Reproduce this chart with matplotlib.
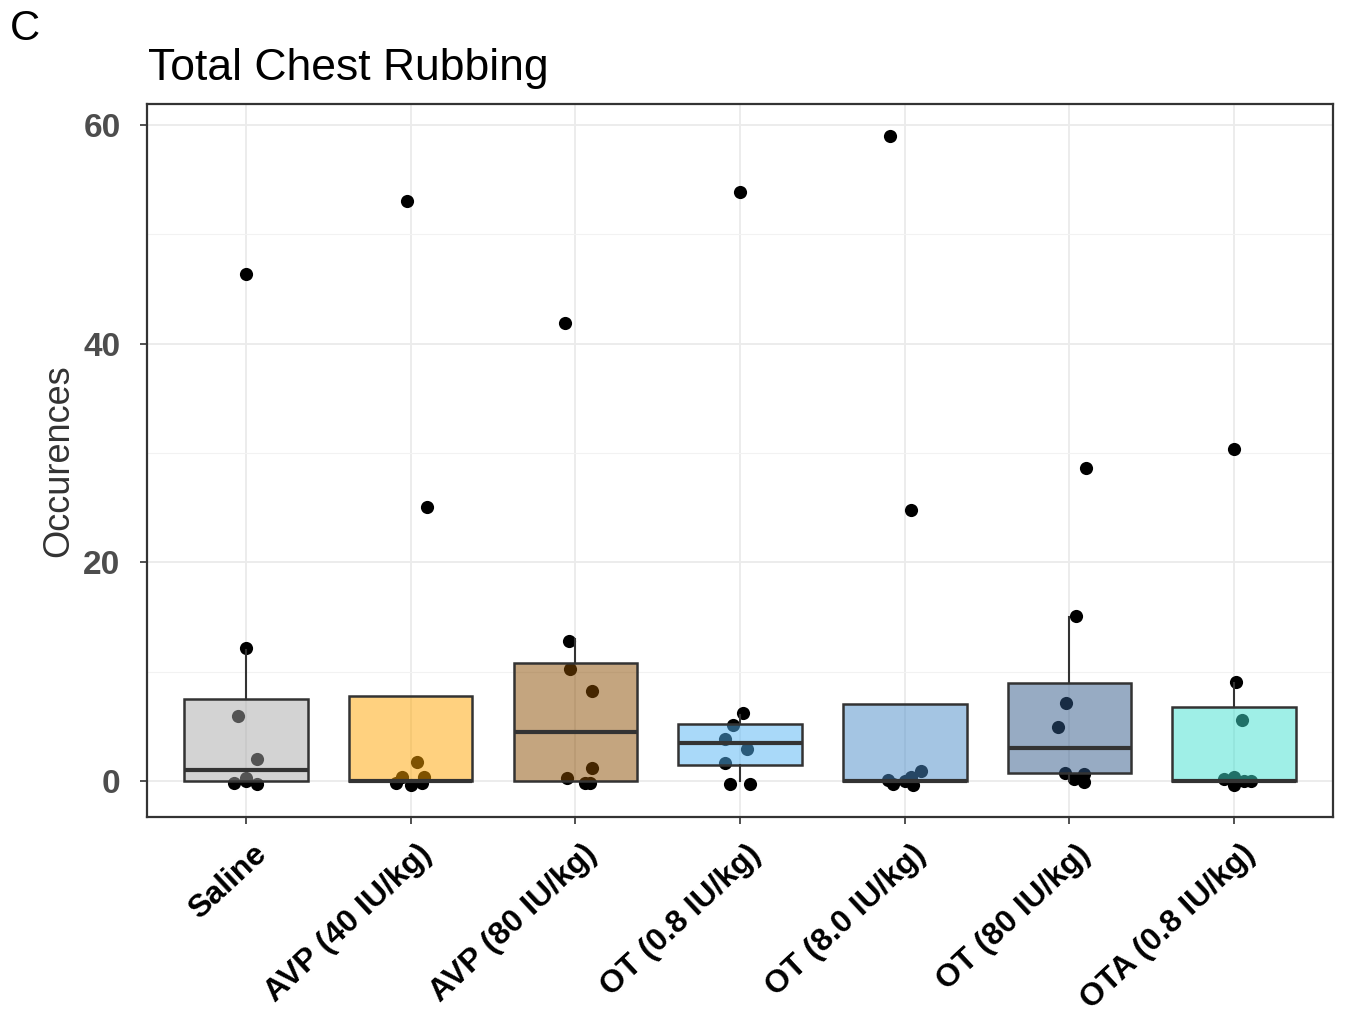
import numpy as np
import matplotlib.pyplot as plt
from matplotlib.colors import to_rgb
from matplotlib.transforms import ScaledTranslation

plt.rcParams['font.family'] = ['Liberation Sans', 'DejaVu Sans']

# ---- data: occurrences per animal, one list per treatment ----
groups = ['Saline', 'AVP (40 IU/kg)', 'AVP (80 IU/kg)', 'OT (0.8 IU/kg)',
          'OT (8.0 IU/kg)', 'OT (80 IU/kg)', 'OTA (0.8 IU/kg)']

saline = [0, 0, 0, 0, 2, 6, 12, 46]
avp_40 = [0, 0, 0, 0, 0, 2, 25, 53]
avp_80 = [0, 0, 0, 1, 8, 10, 13, 42]
ot_08 = [0, 0, 2, 3, 4, 5, 6, 54]
ot_8 = [0, 0, 0, 0, 0, 1, 25, 59]
ot_80 = [0, 0, 1, 1, 5, 7, 15, 29]
ota_08 = [0, 0, 0, 0, 0, 6, 9, 30]

# jitter used for the dots (x in category units, y in count units)
jit_x = [
    [-0.07, 0.0, 0.07, 0.0, 0.07, -0.05, 0.0, 0.0],
    [-0.055, 0.08, -0.09, 0.0, 0.07, 0.04, 0.1, -0.02],
    [-0.05, 0.06, 0.09, 0.1, 0.1, -0.03, -0.04, -0.06],
    [-0.06, 0.06, -0.09, 0.04, -0.09, -0.04, 0.02, 0.0],
    [-0.1, -0.07, 0.05, 0.04, 0.0, 0.1, 0.04, -0.09],
    [0.03, 0.09, -0.03, 0.09, -0.07, -0.02, 0.04, 0.1],
    [-0.06, 0.0, 0.0, 0.1, 0.06, 0.05, 0.01, 0.0],
]
jit_y = [
    [-0.2, 0.0, -0.25, 0.25, 0.0, -0.05, 0.2, 0.4],
    [0.4, 0.35, -0.2, -0.35, -0.15, -0.26, 0.07, 0.0],
    [0.27, -0.2, -0.15, 0.2, 0.2, 0.2, -0.2, -0.1],
    [-0.25, -0.25, -0.35, -0.1, -0.15, 0.1, 0.2, -0.1],
    [0.1, -0.3, -0.35, 0.35, 0.0, -0.1, -0.2, 0.0],
    [0.18, -0.1, -0.27, -0.4, -0.1, 0.1, 0.1, -0.4],
    [0.2, 0.35, -0.4, 0.0, 0.0, -0.4, 0.06, 0.4],
]

fills = ['#a9a9a9', '#ffa500', '#8a4c00', '#55b5f5', '#4b8dc9', '#315989', '#40e0d0']

data = [saline, avp_40, avp_80, ot_08, ot_8, ot_80, ota_08]
pos = np.arange(1, len(groups) + 1)

fig = plt.figure(figsize=(13.45, 10.15), dpi=100)
ax = fig.add_axes([0.1093, 0.195, 0.8818, 0.7025])

# grid like theme_bw
ax.set_axisbelow(True)
ax.set_yticks([0, 20, 40, 60])
ax.set_yticks([10, 30, 50], minor=True)
ax.grid(True, which='major', color='#ebebeb', lw=1.3)
ax.grid(True, which='minor', axis='y', color='#f2f2f2', lw=0.8)
ax.tick_params(axis='y', which='minor', length=0)

# jittered points sit under the translucent boxes
for i, vals in enumerate(data):
    xs = pos[i] + np.array(jit_x[i])
    ys = np.array(vals) + np.array(jit_y[i])
    ax.scatter(xs, ys, s=90, color='black', zorder=2, linewidths=0)

bp = ax.boxplot(data, positions=pos, widths=0.75, patch_artist=True,
                showfliers=False, whis=1.5, showcaps=False,
                medianprops=dict(color='#333333', lw=3.0),
                whiskerprops=dict(color='#333333', lw=1.5),
                boxprops=dict(edgecolor='#333333', lw=1.8))
for patch, c in zip(bp['boxes'], fills):
    r, g, b = to_rgb(c)
    patch.set_facecolor((r, g, b, 0.5))
    patch.set_zorder(3)
for ln in bp['medians'] + bp['whiskers']:
    ln.set_zorder(4)

ax.set_xlim(0.4, 7.6)
ax.set_ylim(-3.3, 61.9)

for sp in ax.spines.values():
    sp.set_color('#333333')
    sp.set_linewidth(1.6)

# x labels: rotated, right end sitting just right of each tick
ax.set_xticks(pos)
ax.set_xticklabels([])
ax.tick_params(axis='x', length=5, width=1.2, color='#333333')
lab_off = ScaledTranslation(17 / 100, -33 / 100, fig.dpi_scale_trans)
for p, name in zip(pos, groups):
    ax.text(p, 0, name, transform=ax.get_xaxis_transform() + lab_off,
            rotation=43, rotation_mode='anchor', ha='right', va='center',
            fontsize=23, fontweight='bold', color='black')

ax.tick_params(axis='y', which='major', length=5, width=1.2, color='#333333',
               pad=14, labelsize=24, labelcolor='#4d4d4d')
for lab in ax.get_yticklabels():
    lab.set_fontweight('bold')

ax.set_ylabel('Occurences', fontsize=26, color='#333333')
ax.yaxis.set_label_coords(-0.060, 0.5)

fig.text(148 / 1345, 1 - 80 / 1015, 'Total Chest Rubbing', fontsize=32,
         va='baseline', ha='left', color='black')
fig.text(10 / 1345, 1 - 40 / 1015, 'C', fontsize=30, va='baseline',
         ha='left', color='black')

fig.savefig('out.png', dpi=100)
